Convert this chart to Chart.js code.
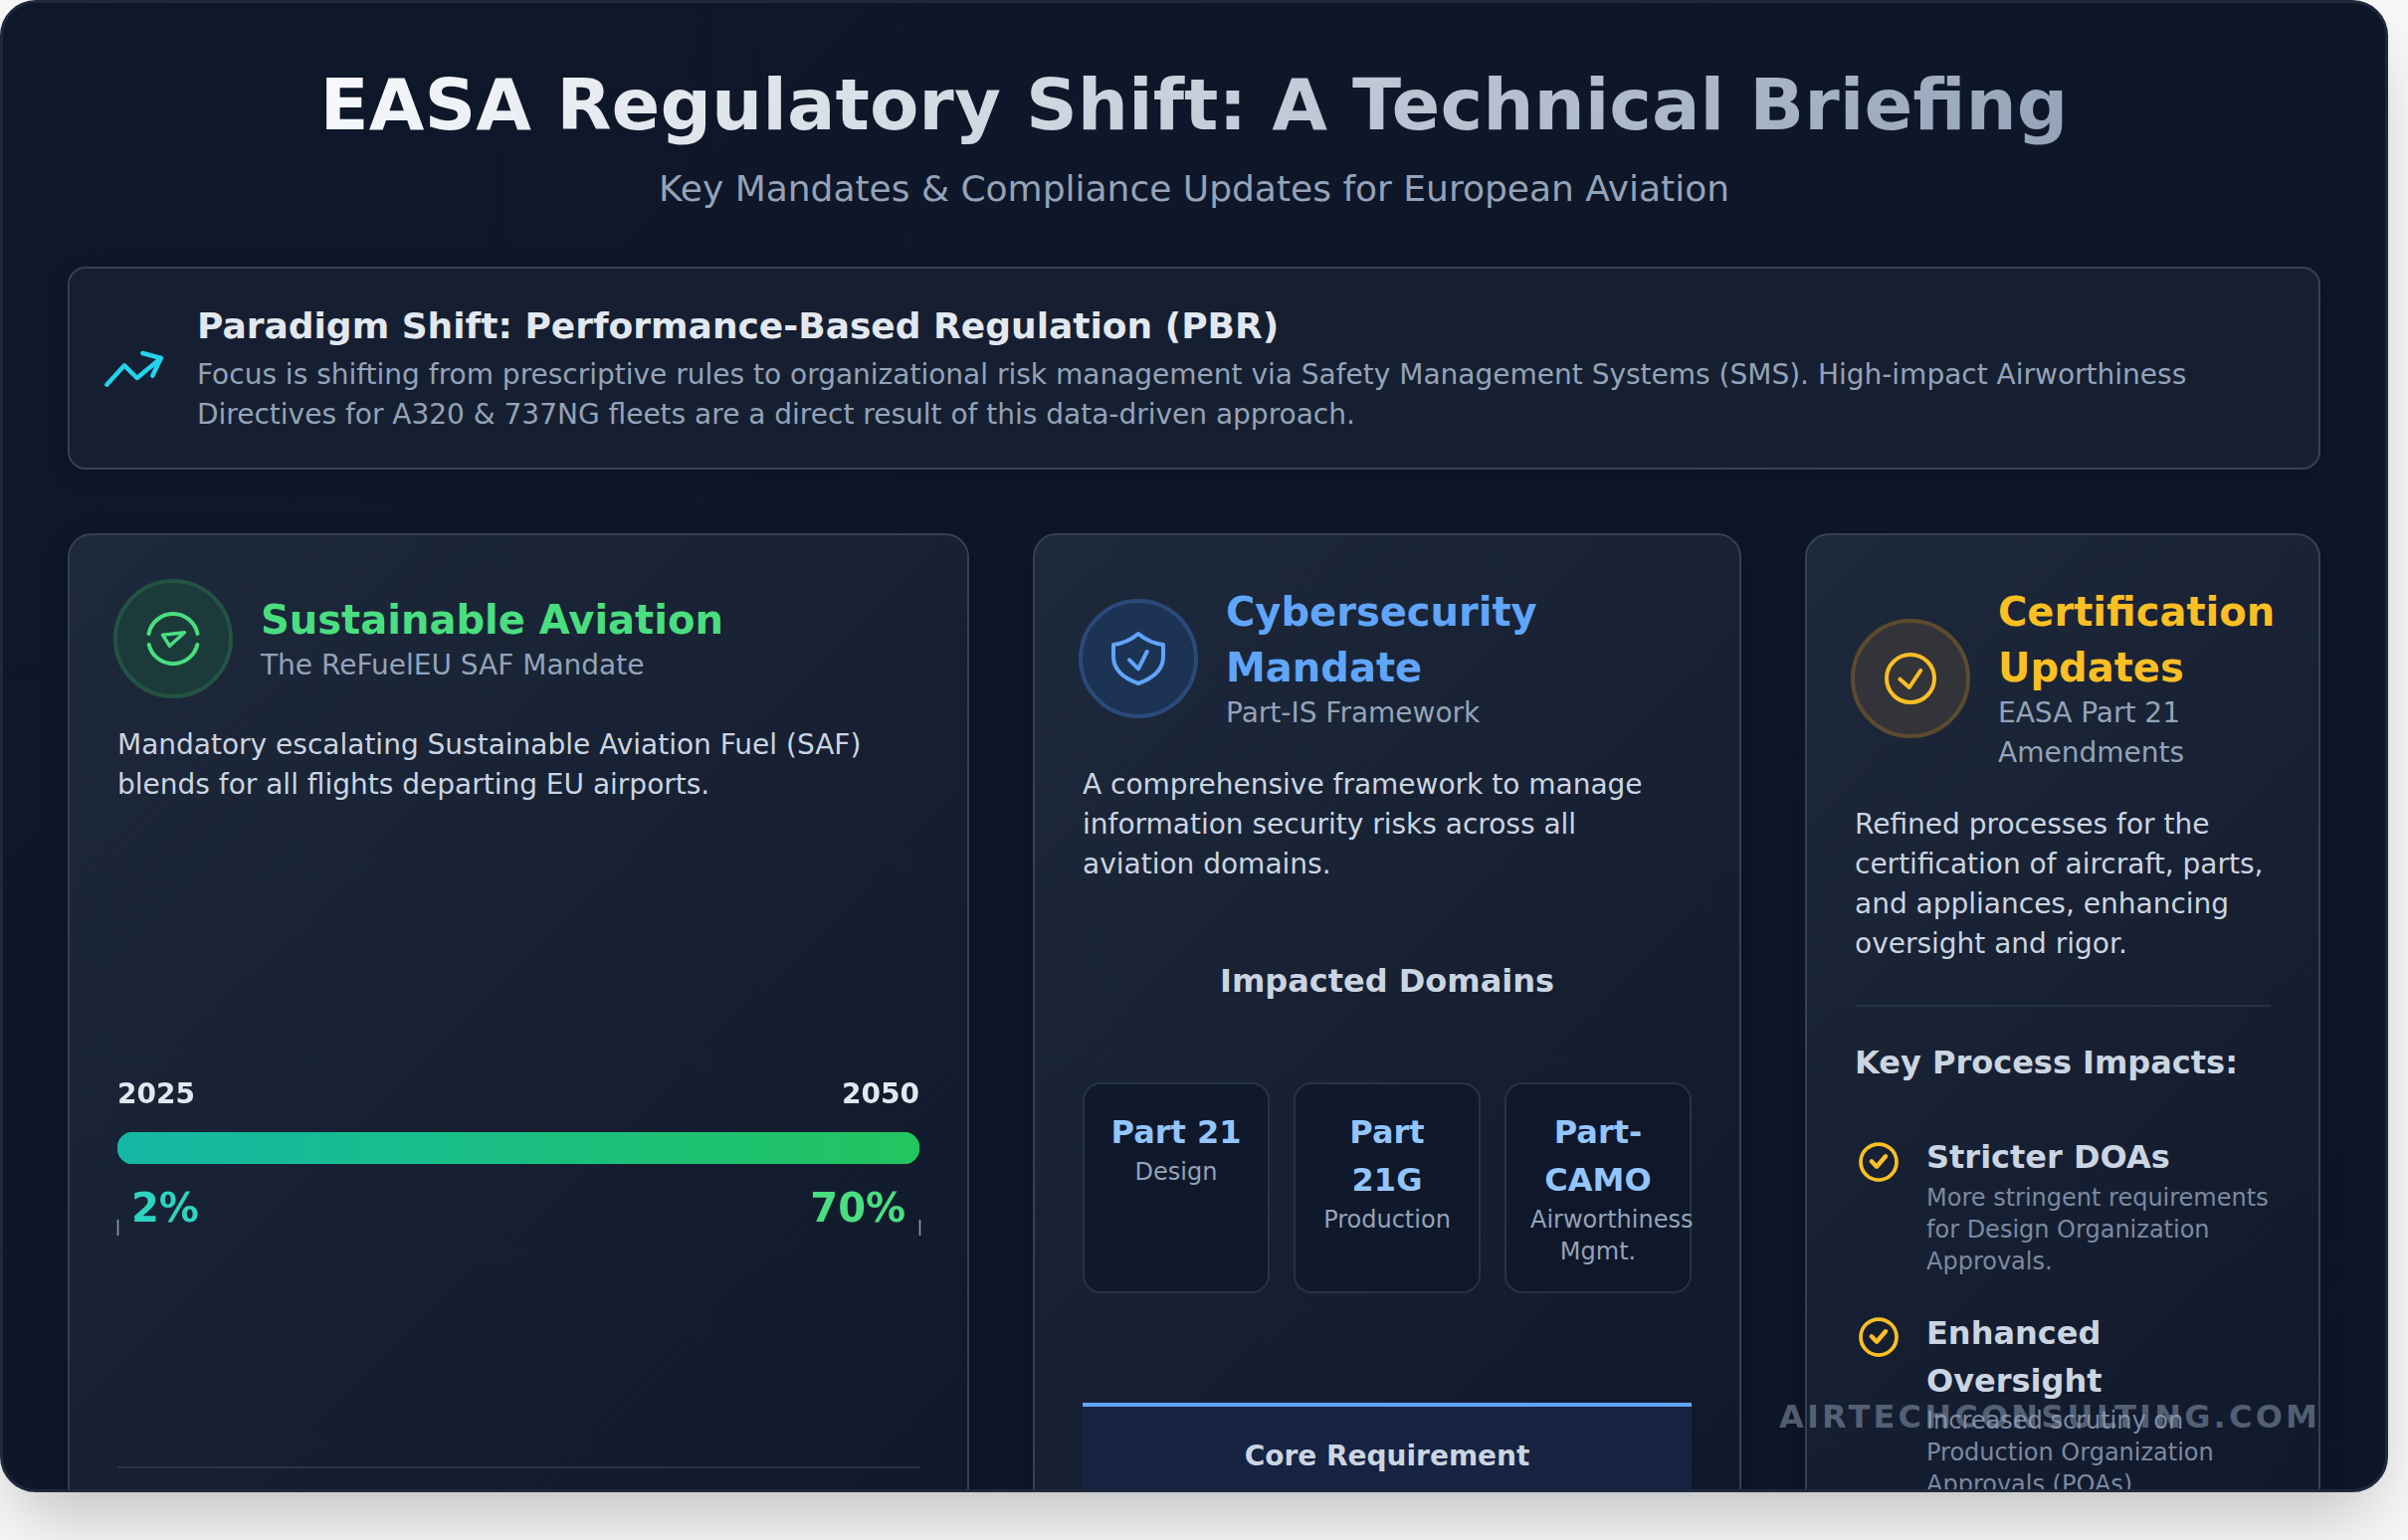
<!DOCTYPE html>
<html>
<head>
<meta charset="utf-8">
<title>EASA Regulatory Shift</title>
<script src="https://cdn.jsdelivr.net/npm/chart.js"></script>
<style>
html, body { margin: 0; height: 100%; background: #f8f8f8; overflow: hidden; font-family: "DejaVu Sans", sans-serif; }
#panel { position: absolute; left: 0; top: 0; width: 2400px; height: 1500px; box-sizing: border-box; border: 3px solid #1e293b; border-radius: 36px; overflow: hidden; background: linear-gradient(135deg, #0f172a, #0d1527); box-shadow: 0 37px 75px -18px rgba(0,0,0,.25); }
#panel-wrap { position: absolute; left: 0; top: 0; width: 2420px; height: 1548px; overflow: hidden; }
#stage { position: absolute; left: -3px; top: -3px; width: 2400px; height: 1500px; }
.box { position: absolute; box-sizing: border-box; }
.card { border: 2px solid #334155; border-radius: 24px; background: linear-gradient(135deg, #1e293b, #0f172a); box-shadow: 0 6px 24px rgba(0,0,0,.2); }
.domain { border: 2px solid #263245; border-radius: 18px; background: rgba(15,23,42,.8); }
.disc { border-radius: 50%; border: 4.5px solid; }
.t { position: absolute; white-space: nowrap; line-height: 1; }
svg { position: absolute; left: 0; top: 0; width: 2400px; height: 1500px; fill: none; stroke-linecap: round; stroke-linejoin: round; }
#chart-wrap { position: absolute; left: 114px; top: 1060px; width: 814px; height: 190px; }
</style>
</head>
<body>
<div id="panel-wrap">
<div id="panel"><div id="stage"></div></div>
</div>
<script>
// SAF mandate values
const safYears = [2025, 2050];
const safShare = [2, 70];
const safLabel = "SAF blend";
const safShareColors = ["#2dd4bf", "#4ade80"];

const stage = document.getElementById("stage");

function box(cls, x, y, w, h, extra) {
    const el = document.createElement("div");
    el.className = "box " + cls;
    el.style.cssText = `left:${x}px;top:${y}px;width:${w}px;height:${h}px;` + (extra || "");
    stage.appendChild(el);
    return el;
}

// x is left edge, or the centre when align is "c"; y is the baseline
function txt(text, x, y, size, color, bold, align, extra) {
    const el = document.createElement("div");
    el.className = "t";
    el.textContent = text;
    const top = y - size * 0.846 + (size > 24 ? 1 : 0);
    el.style.cssText = `left:${x}px;top:${top}px;font-size:${size}px;color:${color};font-weight:${bold ? 700 : 400};` +
        (align === "c" ? "transform:translateX(-50%);" : "") + (extra || "");
    stage.appendChild(el);
    return el;
}

const LIGHT = "#e2e8f0", SOFT = "#cbd5e1", MUTED = "#94a3b8", DIM = "#7c8aa0";

// header
txt("EASA Regulatory Shift: A Technical Briefing", 1200, 129, 72, "transparent", true, "c",
    "padding-bottom:12px;background:linear-gradient(135deg,#f8fafc,#94a3b8);-webkit-background-clip:text;background-clip:text;");
txt("Key Mandates & Compliance Updates for European Aviation", 1200, 201, 36, MUTED, false, "c");

// PBR banner
box("", 68, 268, 2264, 204, "border:2px solid #334155;border-radius:18px;background:#161f31;box-shadow:0 6px 20px rgba(0,0,0,.15);");
txt("Paradigm Shift: Performance-Based Regulation (PBR)", 198, 339, 36, LIGHT, true);
txt("Focus is shifting from prescriptive rules to organizational risk management via Safety Management Systems (SMS). High-impact Airworthiness", 198, 386, 28, MUTED);
txt("Directives for A320 & 737NG fleets are a direct result of this data-driven approach.", 198, 426, 28, MUTED);

// cards
box("card", 68, 536, 906, 1100);
box("card", 1038, 536, 712, 1100);
box("card", 1814, 536, 518, 1100);

// card 1
box("disc", 114, 582, 120, 120, "background:#1c3a3a;border-color:#235343;");
txt("Sustainable Aviation", 262, 636, 40, "#4ade80", true);
txt("The ReFuelEU SAF Mandate", 262, 678, 28, MUTED);
txt("Mandatory escalating Sustainable Aviation Fuel (SAF)", 118, 758, 28, SOFT);
txt("blends for all flights departing EU airports.", 118, 798, 28, SOFT);
box("", 118, 1474, 806, 2, "background:#263245;");

// card 2
box("disc", 1084, 602, 120, 120, "background:#1d3354;border-color:#2a4a7a;");
txt("Cybersecurity", 1232, 628, 40, "#60a5fa", true);
txt("Mandate", 1232, 684, 40, "#60a5fa", true);
txt("Part-IS Framework", 1232, 726, 28, MUTED);
txt("A comprehensive framework to manage", 1088, 798, 28, SOFT);
txt("information security risks across all", 1088, 838, 28, SOFT);
txt("aviation domains.", 1088, 878, 28, SOFT);
txt("Impacted Domains", 1394, 996, 32, SOFT, true, "c");

box("domain", 1088, 1088, 188, 212);
box("domain", 1300, 1088, 188, 212);
box("domain", 1512, 1088, 188, 212);
txt("Part 21", 1182, 1148, 32, "#93c5fd", true, "c");
txt("Design", 1182, 1186, 24, MUTED, false, "c");
txt("Part", 1394, 1148, 32, "#93c5fd", true, "c");
txt("21G", 1394, 1196, 32, "#93c5fd", true, "c");
txt("Production", 1394, 1234, 24, MUTED, false, "c");
txt("Part-", 1606, 1148, 32, "#93c5fd", true, "c");
txt("CAMO", 1606, 1196, 32, "#93c5fd", true, "c");
txt("Airworthiness", 1538, 1234, 24, MUTED);
txt("Mgmt.", 1606, 1266, 24, MUTED, false, "c");

box("", 1088, 1410, 612, 120, "border-top:4.5px solid #60a5fa;background:#172342;");
txt("Core Requirement", 1394, 1473, 28, SOFT, true, "c");

// card 3
box("disc", 1860, 622, 120, 120, "background:#33343a;border-color:#5c4b2e;");
txt("Certification", 2008, 628, 40, "#fbbf24", true);
txt("Updates", 2008, 684, 40, "#fbbf24", true);
txt("EASA Part 21", 2008, 726, 28, MUTED);
txt("Amendments", 2008, 766, 28, MUTED);
txt("Refined processes for the", 1864, 838, 28, SOFT);
txt("certification of aircraft, parts,", 1864, 878, 28, SOFT);
txt("and appliances, enhancing", 1864, 918, 28, SOFT);
txt("oversight and rigor.", 1864, 958, 28, SOFT);
box("", 1864, 1010, 418, 2, "background:#263245;");
txt("Key Process Impacts:", 1864, 1078, 32, SOFT, true);
txt("Stricter DOAs", 1936, 1173, 32, SOFT, true);
txt("More stringent requirements", 1936, 1212, 24, DIM);
txt("for Design Organization", 1936, 1244, 24, DIM);
txt("Approvals.", 1936, 1276, 24, DIM);
txt("Enhanced", 1936, 1350, 32, SOFT, true);
txt("Oversight", 1936, 1398, 32, SOFT, true);
txt("Increased scrutiny on", 1936, 1436, 24, DIM);
txt("Production Organization", 1936, 1468, 24, DIM);
txt("Approvals (POAs)", 1936, 1500, 24, DIM);

// icons
const icons = document.createElementNS("http://www.w3.org/2000/svg", "svg");
icons.innerHTML = `
<g stroke="#22d3ee" stroke-width="4.5">
  <polyline points="107.3,386.7 125,367.3 137.7,380 161.7,360"/>
  <polyline points="143.3,355 161.7,360 153.3,377.7"/>
</g>
<g stroke="#4ade80" stroke-width="4">
  <path d="M149.5 637 A25 25 0 0 1 198.5 637"/>
  <path d="M149.7 648 A25 25 0 0 0 198.3 648"/>
  <path d="M163.5 638.3 L185.5 635.7 L170.5 649.3 Z" stroke-width="3.5"/>
</g>
<g stroke="#60a5fa" stroke-width="4">
  <path d="M1144 637 C1137 643 1127 647 1119 648 L1119 660 C1119 674 1130 682 1144 687 C1158 682 1169 674 1169 660 L1169 648 C1161 647 1151 643 1144 637 Z"/>
  <polyline points="1135,663.3 1144,672.3 1152.7,655"/>
</g>
<g stroke="#fbbf24" stroke-width="4">
  <circle cx="1920" cy="682" r="24"/>
  <polyline points="1909.4,682.7 1918.8,691 1930.2,674"/>
</g>
<g stroke="#fbbf24" stroke-width="3.75">
  <circle cx="1888" cy="1168" r="18"/>
  <polyline points="1880.8,1167.3 1886,1172.7 1895,1162.3" stroke-width="4.5"/>
  <circle cx="1888" cy="1344" r="18"/>
  <polyline points="1880.8,1343.3 1886,1348.7 1895,1338.3" stroke-width="4.5"/>
</g>`;
stage.appendChild(icons);

// SAF bar chart
const wrap = document.createElement("div");
wrap.id = "chart-wrap";
const canvas = document.createElement("canvas");
wrap.appendChild(canvas);
stage.appendChild(wrap);

txt("AIRTECHCONSULTING.COM", 1788, 1434, 32, "rgba(148,163,184,.5)", true, "", "letter-spacing:3.2px;");

const useYears = scale => { scale.ticks = safYears.map(v => ({ value: v })); };

new Chart(canvas, {
    type: "bar",
    data: {
        labels: [safLabel],
        datasets: [{
            data: [[safYears[0], safYears[1]]],
            backgroundColor: ctx => {
                const area = ctx.chart.chartArea;
                if (!area) return "#1abf8a";
                const g = ctx.chart.ctx.createLinearGradient(area.left, 0, area.right, 0);
                g.addColorStop(0, "#14b8a6");
                g.addColorStop(1, "#22c55e");
                return g;
            },
            borderRadius: 16,
            borderSkipped: false,
            barPercentage: 1,
            categoryPercentage: 1
        }]
    },
    options: {
        indexAxis: "y",
        responsive: true,
        maintainAspectRatio: false,
        animation: false,
        layout: { padding: { left: 4, right: 4 } },
        plugins: { legend: { display: false }, tooltip: { enabled: false } },
        scales: {
            y: { display: false },
            x: {
                type: "linear",
                position: "top",
                min: safYears[0],
                max: safYears[1],
                afterBuildTicks: useYears,
                afterFit: s => { s.height = 78; },
                // tick padding would also inset the scale sideways, so the gap comes from the hidden tick length
                grid: { display: false, drawTicks: true, tickLength: 19 },
                border: { display: false },
                ticks: {
                    align: "inner",
                    autoSkip: false,
                    maxRotation: 0,
                    padding: 0,
                    color: LIGHT,
                    font: { family: "DejaVu Sans", size: 28, weight: "bold" },
                    callback: v => String(v)
                }
            },
            xShare: {
                type: "linear",
                position: "bottom",
                min: safYears[0],
                max: safYears[1],
                afterBuildTicks: useYears,
                afterFit: s => { s.height = 80; },
                border: { display: false },
                grid: {
                    drawOnChartArea: false,
                    tickLength: 72,
                    tickWidth: 1.5,
                    tickColor: MUTED,
                    tickBorderDash: [0, 56, 16, 200]
                },
                ticks: {
                    align: "inner",
                    autoSkip: false,
                    maxRotation: 0,
                    padding: -48.5,
                    color: ctx => safShareColors[ctx.index],
                    font: { family: "DejaVu Sans", size: 40, weight: "bold" },
                    // a space keeps the labels clear of the end ticks
                    callback: (v, i) => i === 0 ? ` ${safShare[i]}%` : `${safShare[i]}% `
                }
            }
        }
    }
});
</script>
</body>
</html>
